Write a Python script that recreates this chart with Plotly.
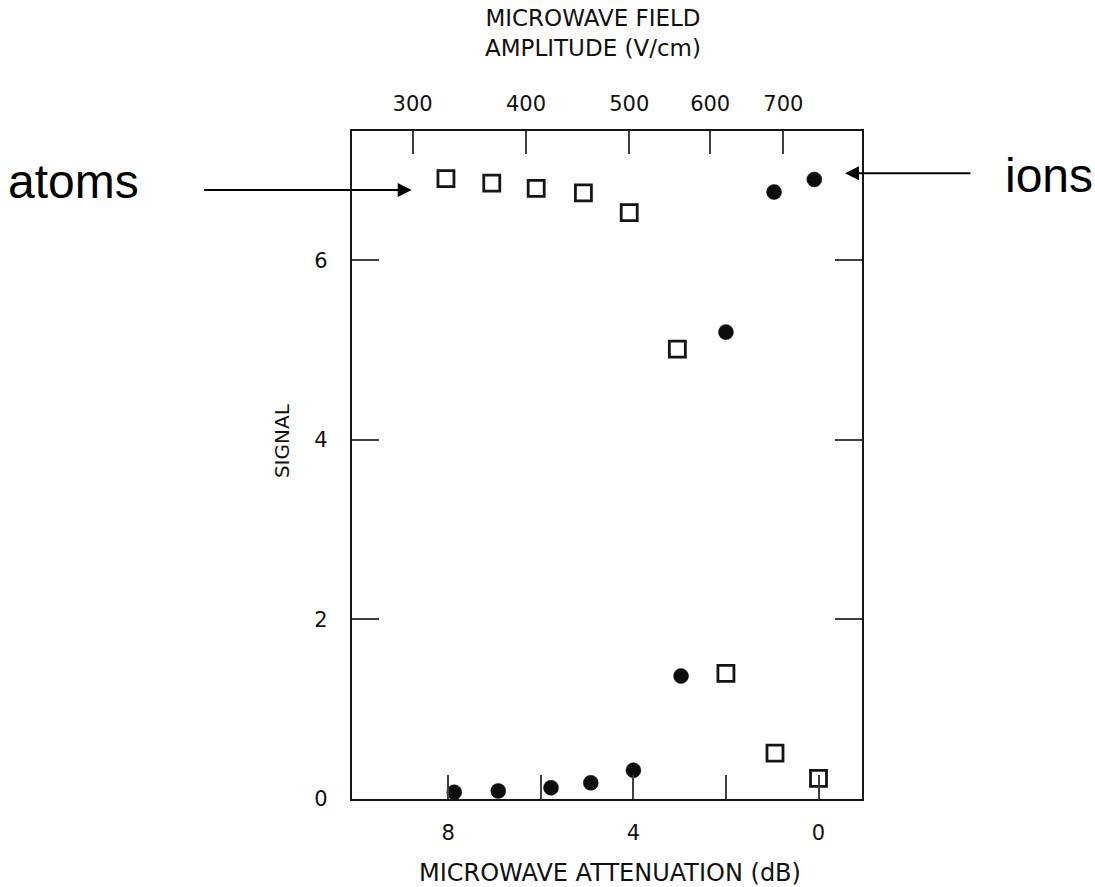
import plotly.graph_objects as go

# --- data ---
atoms_db = [8.05, 7.06, 6.10, 5.08, 4.09, 3.05, 2.00, 0.94, 0.00]
atoms_signal = [6.91, 6.86, 6.80, 6.75, 6.53, 5.01, 1.40, 0.51, 0.23]
ions_db = [7.87, 6.92, 5.78, 4.92, 4.00, 2.97, 2.00, 0.96, 0.09]
ions_signal = [0.075, 0.09, 0.126, 0.18, 0.32, 1.37, 5.20, 6.76, 6.90]

bottom_tickvals = [8, 6, 4, 2, 0]
bottom_ticktext = ["8", "", "4", "", "0"]
top_tick_db = [8.77, 6.32, 4.09, 2.34, 0.76]
top_ticktext = ["300", "400", "500", "600", "700"]
y_tickvals = [0, 2, 4, 6]
y_ticktext = ["0", "2", "4", "6"]

LINE = "#151515"
TICK = "#404040"
TXT = "#111111"
FONT = "DejaVu Sans"

fig = go.Figure()
fig.add_trace(go.Scatter(
    x=atoms_db, y=atoms_signal, mode="markers", name="atoms",
    marker=dict(symbol="square-open", size=16, color=LINE, line=dict(width=2.8, color=LINE)),
))
fig.add_trace(go.Scatter(
    x=ions_db, y=ions_signal, mode="markers", name="ions",
    marker=dict(symbol="circle", size=15, color="#0d0d0d", line=dict(width=0.5, color="#0d0d0d")),
))
# placeholder trace so the top axis is registered
fig.add_trace(go.Scatter(x=[None], y=[None], xaxis="x2", showlegend=False, hoverinfo="skip"))

xr = [10.08, -0.94]
fig.update_layout(
    width=1095, height=887,
    margin=dict(l=352, r=233, t=131, b=88),
    paper_bgcolor="white", plot_bgcolor="white",
    showlegend=False,
    xaxis=dict(
        range=xr, tickvals=bottom_tickvals, ticktext=bottom_ticktext,
        ticks="inside", ticklen=24, tickwidth=1.8, tickcolor=TICK,
        showline=True, linewidth=2.2, linecolor=LINE, mirror=False,
        showgrid=False, zeroline=False,
        tickfont=dict(family=FONT, size=21, color=TXT), ticklabelstandoff=14,
    ),
    xaxis2=dict(
        range=xr, overlaying="x", side="top", anchor="y",
        tickvals=top_tick_db, ticktext=top_ticktext,
        ticks="inside", ticklen=23, tickwidth=1.8, tickcolor=TICK,
        showline=True, linewidth=2.2, linecolor=LINE,
        showgrid=False, zeroline=False,
        tickfont=dict(family=FONT, size=21, color=TXT), ticklabelstandoff=10,
    ),
    yaxis=dict(
        range=[0, 7.44], tickvals=y_tickvals, ticktext=y_ticktext,
        ticks="inside", ticklen=27, tickwidth=1.8, tickcolor=TICK,
        showline=True, linewidth=2.2, linecolor=LINE, mirror="ticks",
        showgrid=False, zeroline=False,
        tickfont=dict(family=FONT, size=21, color=TXT), ticklabelstandoff=18,
    ),
)

annotations = [
    dict(text="MICROWAVE ATTENUATION (dB)", x=0.506, y=-0.111, xref="paper", yref="paper",
         showarrow=False, xanchor="center", yanchor="middle",
         font=dict(family=FONT, size=24, color=TXT)),
    dict(text="SIGNAL", x=-0.137, y=0.536, xref="paper", yref="paper", textangle=-90,
         showarrow=False, xanchor="center", yanchor="middle",
         font=dict(family=FONT, size=20, color=TXT)),
    dict(text="MICROWAVE FIELD<br>AMPLITUDE (V/cm)", x=0.4725, y=1.146, xref="paper", yref="paper",
         showarrow=False, xanchor="center", yanchor="middle",
         font=dict(family=FONT, size=23, color=TXT)),
    dict(text="atoms", x=-0.546, y=0.925, xref="paper", yref="paper",
         showarrow=False, xanchor="center", yanchor="middle",
         font=dict(family="Liberation Sans", size=48, color="black")),
    dict(text="ions", x=1.367, y=0.933, xref="paper", yref="paper",
         showarrow=False, xanchor="center", yanchor="middle",
         font=dict(family="Liberation Sans", size=48, color="black")),
    dict(text="", x=0.117, y=0.9117, xref="paper", yref="paper",
         showarrow=True, ax=-209, ay=0, axref="pixel", ayref="pixel",
         arrowhead=2, arrowsize=1.4, arrowwidth=2, arrowcolor="black"),
    dict(text="", x=0.9667, y=0.9367, xref="paper", yref="paper",
         showarrow=True, ax=127, ay=0, axref="pixel", ayref="pixel",
         arrowhead=2, arrowsize=1.4, arrowwidth=2, arrowcolor="black"),
]
fig.update_layout(annotations=annotations)

fig.write_html("out.html")
